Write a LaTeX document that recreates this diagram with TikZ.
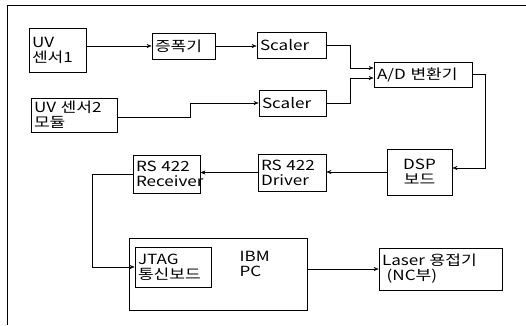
\documentclass[tikz,border=0pt]{standalone}
\usepackage{fontspec}
\setmainfont{Noto Sans CJK KR}[FakeStretch=1.22]
\usepackage{tikz}
\usetikzlibrary{arrows.meta}

\begin{document}
\begin{tikzpicture}[x=1pt, y=-1pt, font=\fontsize{14}{15}\selectfont,
        >={Stealth[length=5pt, width=4pt]},
        blk/.style={draw, thick, align=left, inner xsep=3pt, inner ysep=2pt}]

        \useasboundingbox (0,0) rectangle (526,325);

        \draw[thick] (7,325) -- (7,5) -- (526,5);

        \node[blk, text width=51pt, minimum height=44pt] (uv1) at (57.5,50) {UV\\센서1};

        \node[blk, text width=57pt, minimum height=26pt] (amp) at (183.5,46) {증폭기};

        \node[blk, text width=63pt, minimum height=26pt] (scl1) at (291.5,45) {Scaler};

        \node[blk, text width=92pt, minimum height=25pt] (adc) at (423,74.5) {A/D 변환기};

        \node[blk, text width=61pt, minimum height=26pt] (scl2) at (292.5,103) {Scaler};

        \node[blk, text width=80pt, minimum height=34pt] (uv2) at (74,115) {UV 센서2\\모듈};

        \node[blk, text width=61pt, minimum height=38pt] (rcv) at (166.5,174) {RS 422\\Receiver};

        \node[blk, text width=62pt, minimum height=37pt] (drv) at (292,172.5) {RS 422\\Driver};

        \node[blk, align=center, text width=59pt, minimum height=46pt] (dsp) at (419.5,172) {DSP\\보드};

        \node[blk, text width=172pt, minimum height=72pt] (pc) at (218,274) {};

        \node[align=left, anchor=west] (pclabel) at (236,264) {IBM\\PC};

        \node[blk, text width=70pt, minimum height=40pt] (jtag) at (173,267) {JTAG\\통신보드};

        \node[blk, text width=117pt, minimum height=42pt] (laser) at (440.5,269) {Laser 용접기\\\ (NC부)};

        \draw[->] (uv1.east |- amp) -- (amp);

        \draw[->] (amp.east) -- (amp.east -| scl1.west);

        \draw[->] (scl1.east) -- ++(24,0) |- ([yshift=6.5pt]adc.west);

        \draw[->] (scl2.east) -- ++(24,0) |- ([yshift=-3.5pt]adc.west);

        \draw[->] ([yshift=-2pt]uv2.east) -- ++(73,0) |- (scl2.west);

        \draw[->] (adc.east) -- ++(13,0) |- ([yshift=4pt]dsp.east);

        \draw[->] (dsp.west) -- (dsp.west -| drv.east);

        \draw[->] (drv.west) -- (drv.west -| rcv.east);

        \draw[->] (rcv.west) -- ++(-40,0) |- (jtag.west);

        \draw[->] (pc.east |- laser.west) -- (laser.west);

\end{tikzpicture}
\end{document}
